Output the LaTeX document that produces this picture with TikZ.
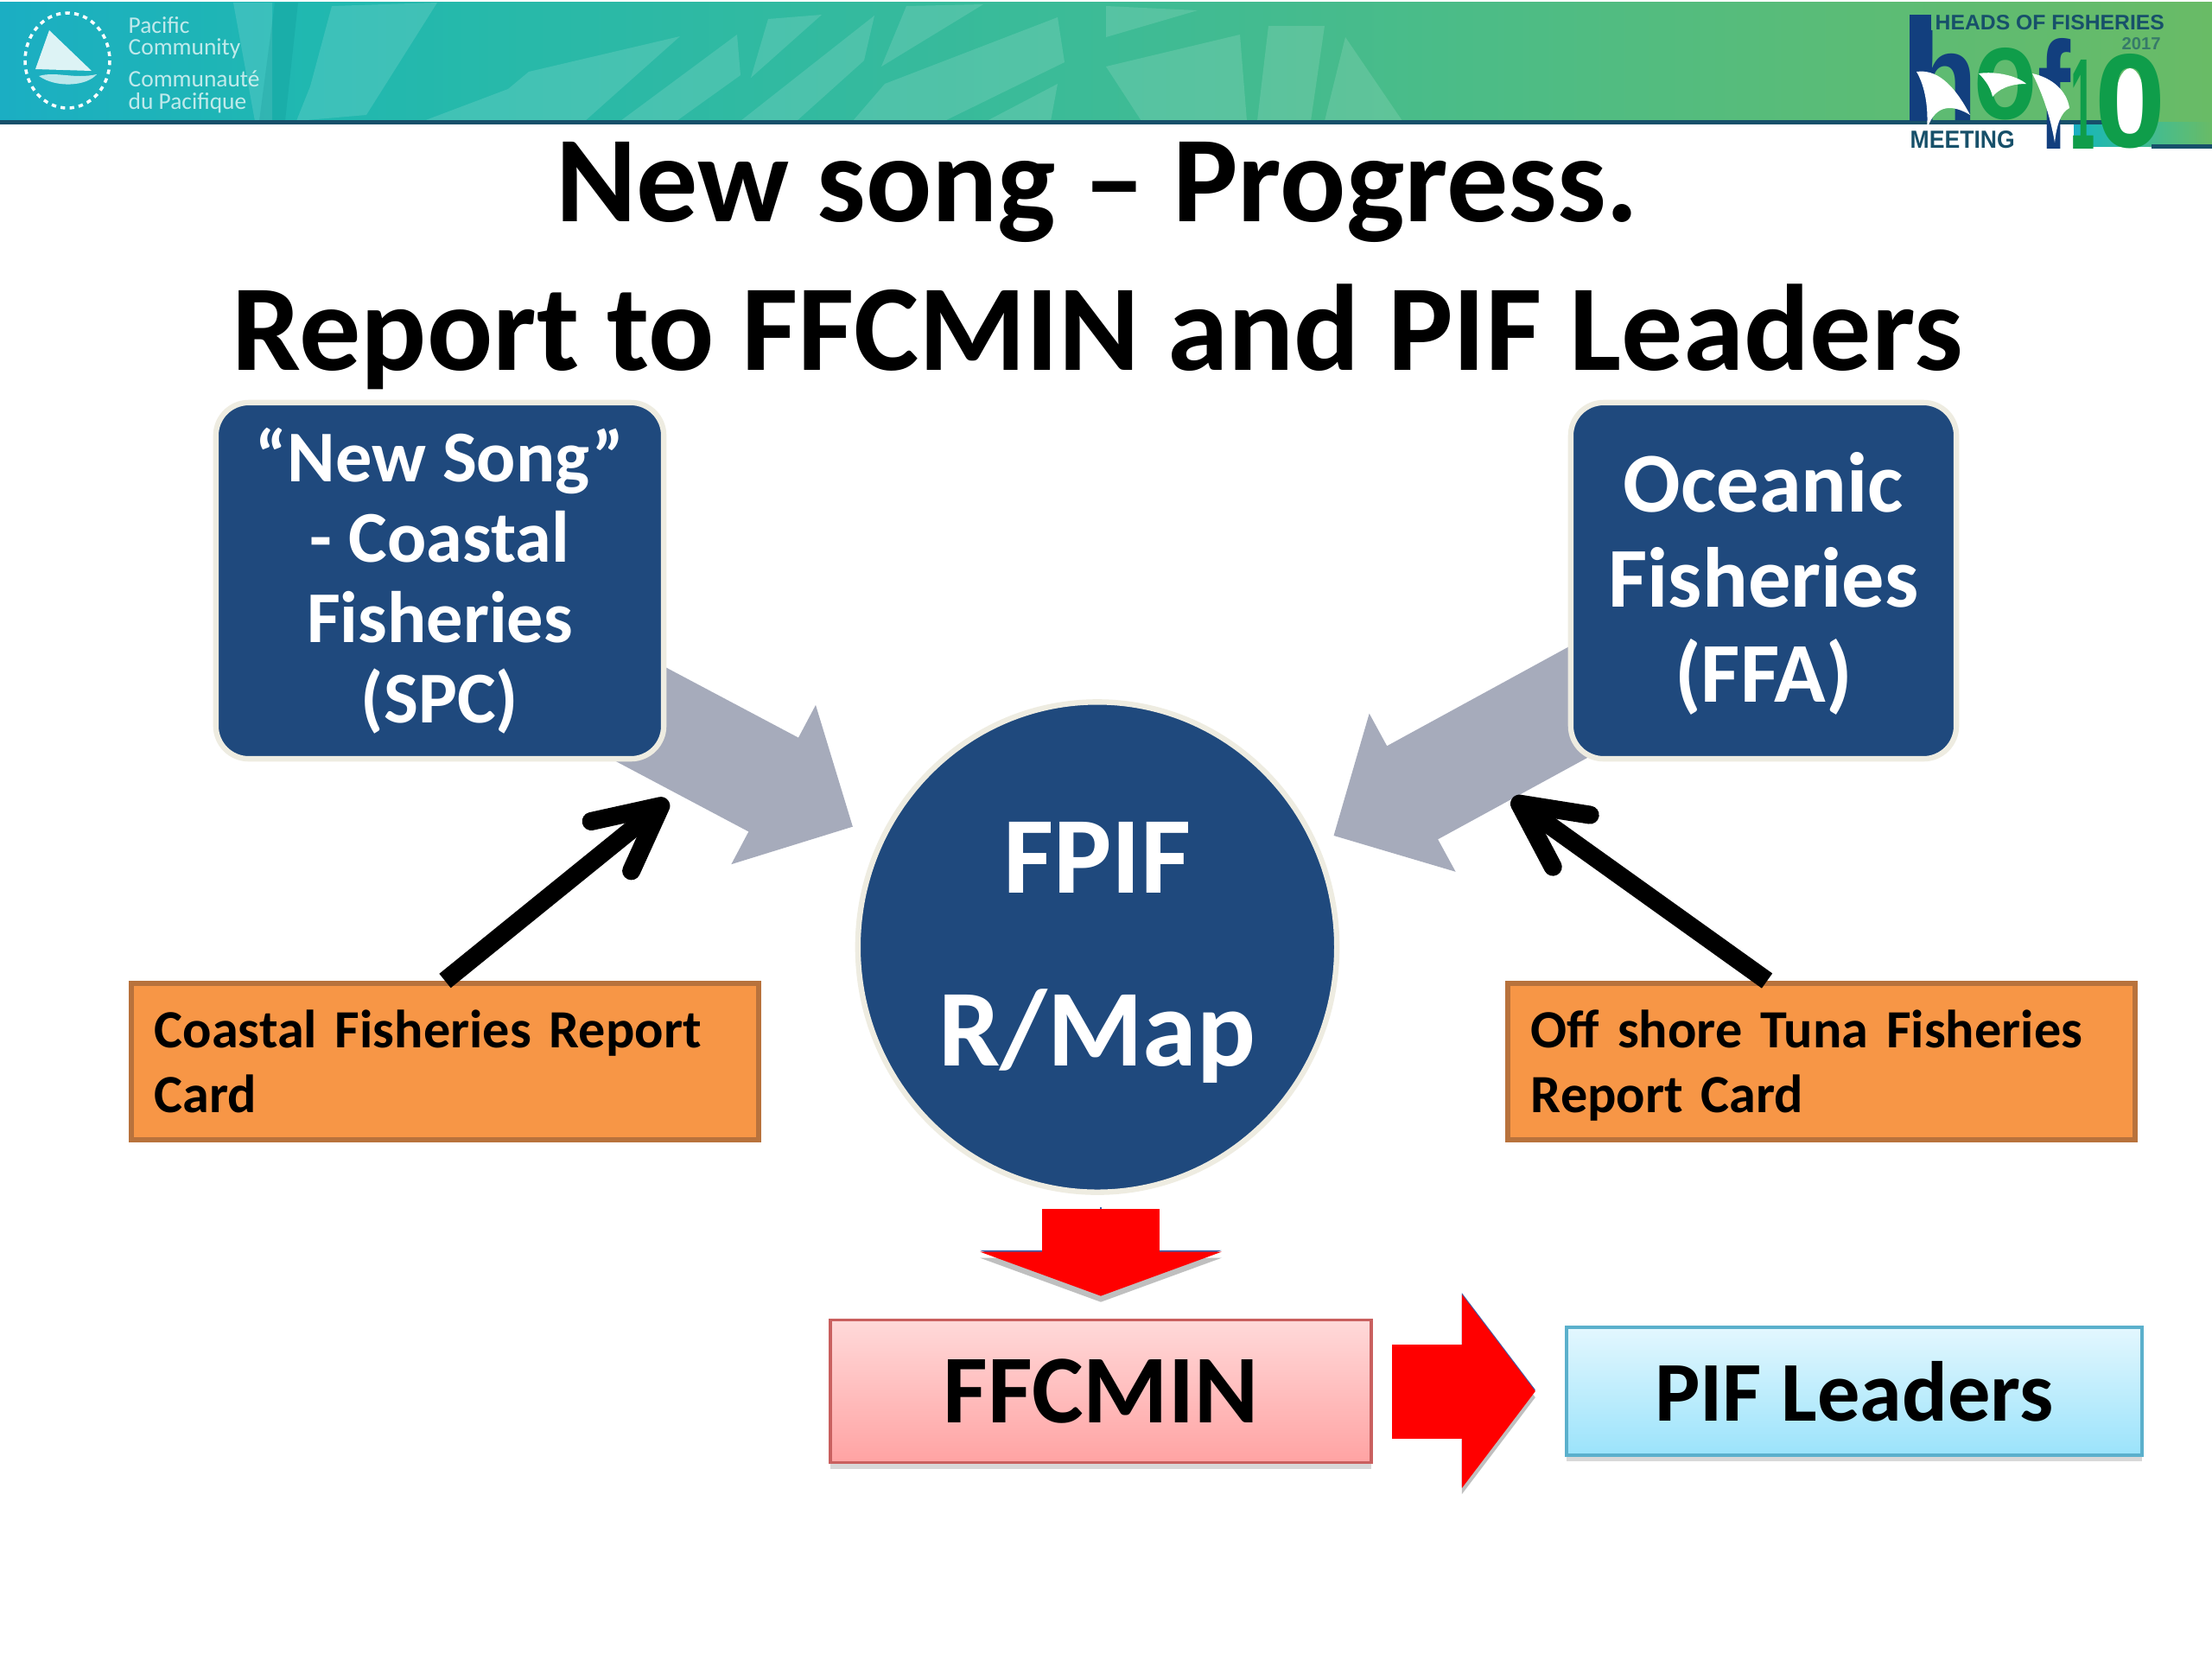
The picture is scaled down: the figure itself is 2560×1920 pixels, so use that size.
\documentclass[tikz,border=0pt]{standalone}
\usepackage{fontspec}
\setmainfont{Carlito}
\usetikzlibrary{arrows.meta,shadows,backgrounds,shapes.geometric}
\newfontfamily\logofont{Liberation Sans}
\newcommand{\fitbox}[3]{\resizebox{#1}{#2}{#3}}
\definecolor{navy}{HTML}{1F497D}
\definecolor{edgecream}{HTML}{EEECE1}
\definecolor{slate}{HTML}{A6ABBB}
\definecolor{cardorange}{HTML}{F79646}
\definecolor{cardedge}{HTML}{B8723C}
\definecolor{logogreen}{HTML}{0F9D4A}
\definecolor{logonavy}{HTML}{123F7E}
\definecolor{bandline}{HTML}{17506A}
\definecolor{banda}{HTML}{1BAEC3}
\definecolor{bandb}{HTML}{20B8B0}
\definecolor{bandc}{HTML}{3DBB96}
\definecolor{bandd}{HTML}{52BC80}
\definecolor{bande}{HTML}{69BB66}
\definecolor{pinktop}{HTML}{FFD9D9}
\definecolor{pinkbottom}{HTML}{FFA3A3}
\definecolor{pinkedge}{HTML}{C9605F}
\definecolor{skytop}{HTML}{E3F7FE}
\definecolor{skybottom}{HTML}{9BE3FB}
\definecolor{skyedge}{HTML}{5BB0CC}
\definecolor{arrowedge}{HTML}{3F5FA8}
\pgfdeclarehorizontalshading{bandshade}{100bp}{color(0bp)=(banda);color(25bp)=(banda);color(32bp)=(bandb);color(50bp)=(bandc);color(62bp)=(bandd);color(75bp)=(bande);color(100bp)=(bande)}

\begin{document}
\begin{tikzpicture}[x=0.01cm,y=-0.01cm]
                        \tikzstyle{leaf}=[fill=white,fill opacity=0.13]
                        \tikzstyle{dark leaf}=[fill=teal,fill opacity=0.16]
                        \tikzstyle{title}=[font=\fontsize{40.4}{40.4}\selectfont\bfseries,inner sep=0pt,anchor=base]
                        \tikzstyle{blue box}=[draw=edgecream,line width=1.8pt,fill=navy,rounded corners=0.38cm,text=white,align=center,inner sep=0pt]
                        \tikzstyle{card}=[draw=cardedge,line width=1.6pt,fill=cardorange,align=left,anchor=north west,inner sep=0pt,font=\fontsize{17.7}{21.3}\selectfont\bfseries]
                        \tikzstyle{gray arrow}=[slate,line width=35pt,-{Triangle[length=29.6pt,width=57.5pt]}]
                        \tikzstyle{black arrow}=[black,line width=6pt,-{Straight Barb[length=21pt,width=21pt,round]}]
                        \tikzstyle{red arrow}=[red,preaction={draw=black!25,transform canvas={yshift=-2pt}},preaction={draw=arrowedge,transform canvas={yshift=0.5pt}}]
                        \tikzstyle{logo}=[inner sep=0pt,anchor=south west,font=\logofont\bfseries]
                        \tikzstyle{sea text}=[white,opacity=0.72,inner sep=0pt,anchor=base west,font=\fontsize{7.8}{7.8}\selectfont]
                        \useasboundingbox (0,0) rectangle (2560,1920);
                        \shade[shading=bandshade] (0,2) rectangle (2560,141);
                        \shade[shading=bandshade] (2400,141) rectangle (2560,169);
                        \fill[leaf] (270,3) -- (315,3) -- (315,140) -- (295,140) -- cycle;
                        \fill[dark leaf] (318,3) -- (345,3) -- (330,140) -- (300,140) -- cycle;
                        \fill[leaf] (384,7) -- (506,3) -- (424,133) -- (343,140) -- (359,100) -- cycle;
                        \fill[leaf] (490,140) -- (588,103) -- (612,83) -- (787,42) -- (677,140) -- cycle;
                        \fill[leaf] (718,140) -- (853,40) -- (857,87) -- (783,140) -- cycle;
                        \fill[leaf] (869,90) -- (889,22) -- (951,17) -- cycle;
                        \fill[leaf] (857,140) -- (1012,18) -- (1000,70) -- (922,140) -- cycle;
                        \fill[leaf] (1020,77) -- (1049,7) -- (1138,5) -- cycle;
                        \fill[leaf] (987,140) -- (1024,97) -- (1224,20) -- (1232,72) -- (1093,140) -- cycle;
                        \fill[leaf] (1142,140) -- (1224,97) -- (1216,140) -- cycle;
                        \fill[leaf] (1280,7) -- (1386,12) -- (1280,43) -- cycle;
                        \fill[leaf] (1280,77) -- (1435,40) -- (1443,140) -- (1321,140) -- cycle;
                        \fill[leaf] (1468,30) -- (1533,30) -- (1517,140) -- (1455,140) -- cycle;
                        \fill[leaf] (1557,43) -- (1623,140) -- (1533,140) -- cycle;
                        \fill[bandline] (0,139) rectangle (2490,144);
                        \fill[bandline] (2490,167) rectangle (2560,172);
                        \draw[white,line width=1pt,dash pattern=on 1.5pt off 1.5pt] (78,70) ellipse (49 and 55);
                        \fill[white,opacity=0.85] (57,35) -- (41,80) -- (106,82) -- cycle;
                        \fill[white,opacity=0.7] (45,88) .. controls (65,82) and (85,92) .. (112,86) .. controls (100,100) and (65,102) .. (45,88);
                        \node[sea text] (pacific) at (148,38) {Pacific};
                        \node[sea text] (community) at (148,63) {Community};
                        \node[sea text] (communaute) at (148,100) {Communauté};
                        \node[sea text] (pacifique) at (148,126) {du Pacifique};
                        \node[title] (tline) at (1270,256) {New song -- Progress.};
                        \node[title] (bline) at (1270,428) {Report to FFCMIN and PIF Leaders};
                        \node[blue box,minimum width=5.18cm,minimum height=4.12cm,font=\fontsize{24}{26.5}\selectfont\bfseries] (spc) at (509,672) {``New Song''\\- Coastal\\Fisheries\\(SPC)};
                        \node[blue box,minimum width=4.46cm,minimum height=4.12cm,font=\fontsize{28}{31.2}\selectfont\bfseries] (ffa) at (2041,672) {\rule{0pt}{21.5pt}Oceanic\\Fisheries\\(FFA)};
                        \node[ellipse,draw=edgecream,line width=1.8pt,fill=navy,minimum width=5.54cm,minimum height=5.67cm,inner sep=0pt,text=white,align=center,font=\fontsize{36}{56.7}\selectfont\bfseries] (fpif) at (1270,1096) {\rule{0pt}{27pt}FPIF\\R/Map};
                        \begin{pgfonlayer}{background}
                            \fill[white] (0,0) rectangle (2560,1920);
                            \draw[gray arrow,shorten <=-12pt,shorten >=9.6pt] (spc.-33) -- (fpif.154.6);
                            \draw[gray arrow,shorten <=-12pt,shorten >=5.9pt] (ffa.213) -- (fpif.25);
                        \end{pgfonlayer}
                        \node[card,minimum width=7.26cm,minimum height=1.81cm,text width=6.72cm] (cfcard) at (149,1135) {\rule{0pt}{15pt}Coastal Fisheries Report\\Card\vphantom{p}};
                        \node[card,minimum width=7.26cm,minimum height=1.81cm,text width=6.72cm] (oscard) at (1742,1135) {\rule{0pt}{15pt}Off shore Tuna Fisheries\\Report Card};
                        \coordinate (cftip) at (773,926);
                        \coordinate (ostip) at (1750,924);
                        \draw[black arrow] (cfcard.north) -- (cftip);
                        \draw[black arrow] (oscard.124) -- (ostip);
                        \node[draw=pinkedge,line width=1pt,top color=pinktop,bottom color=pinkbottom,minimum width=6.26cm,minimum height=1.65cm,inner sep=0pt,font=\fontsize{32}{32}\selectfont\bfseries,drop shadow={opacity=0.3,shadow xshift=0pt,shadow yshift=-2pt}] (ffcmin) at (1274,1610) {FFCMIN};
                        \node[draw=skyedge,line width=1pt,top color=skytop,bottom color=skybottom,minimum width=6.66cm,minimum height=1.48cm,inner sep=0pt,font=\fontsize{28}{28}\selectfont\bfseries,drop shadow={opacity=0.3,shadow xshift=0pt,shadow yshift=-2pt}] (pifl) at (2146,1610) {PIF Leaders};
                        \draw[red arrow,line width=38.7pt,-{Triangle[length=14.5pt,width=79pt]},shorten <=4.6pt,shorten >=7.4pt] (ffcmin.north |- fpif.south) -- (ffcmin.north);
                        \draw[red arrow,line width=31pt,-{Triangle[length=24.2pt,width=62.5pt]},shorten <=6.3pt,shorten >=9.7pt] (ffcmin.east) -- (pifl.west);
                        \fill[logonavy] (2210,17) rectangle (2235,140);
                        \node[logo,text=logonavy] (logoh) at (2210,140) {\fitbox{0.78cm}{1.04cm}{h}};
                        \node[logo,text=logogreen] (logoo) at (2284,140) {\fitbox{0.73cm}{0.82cm}{o}};
                        \node[logo,text=logonavy] (logof) at (2358,173) {\fitbox{0.38cm}{1.28cm}{f}};
                        \fill[white] (2465,119) ellipse (17 and 40);
                        \node[logo,text=logogreen] (logoone) at (2396,173) {\fitbox{0.28cm}{1.03cm}{1}};
                        \node[logo,text=logogreen] (logozero) at (2424,173) {\fitbox{0.82cm}{1.08cm}{0}};
                        \fill[white] (2218,83) .. controls (2240,80) and (2260,95) .. (2280,133) .. controls (2262,122) and (2240,118) .. (2230,150) .. controls (2232,125) and (2228,100) .. (2218,83);
                        \fill[white] (2290,85) .. controls (2310,82) and (2335,88) .. (2345,97) .. controls (2325,97) and (2312,104) .. (2306,112) .. controls (2304,102) and (2298,93) .. (2290,85);
                        \fill[white] (2352,85) .. controls (2375,90) and (2392,105) .. (2395,125) .. controls (2385,130) and (2380,145) .. (2378,165) .. controls (2372,130) and (2362,105) .. (2352,85);
                        \node[logo,text=bandline] (headsof) at (2239,35) {\fitbox{2.65cm}{0.17cm}{HEADS OF FISHERIES}};
                        \node[logo,text=bandline,opacity=0.6] (yeartxt) at (2455,58) {\fitbox{0.45cm}{0.14cm}{2017}};
                        \node[logo,text=bandline] (meeting) at (2210,172) {\fitbox{1.21cm}{0.2cm}{MEETING}};
                    \end{tikzpicture}
\end{document}
